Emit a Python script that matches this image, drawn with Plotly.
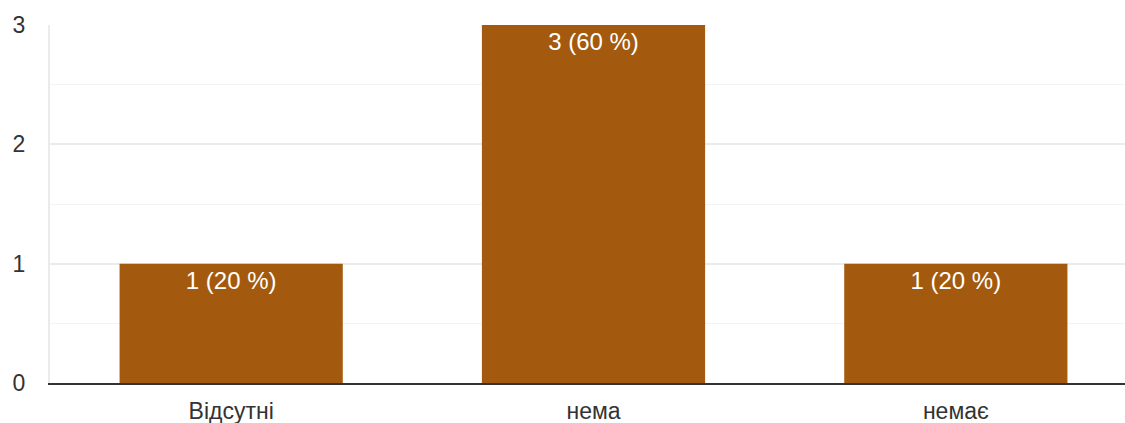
import plotly.graph_objects as go

categories = ["Відсутні", "нема", "немає"]
values = [1, 3, 1]
labels = ["1 (20 %)", "3 (60 %)", "1 (20 %)"]
y_ticks = [0, 1, 2, 3]

FONT = "Liberation Sans, Arial"

fig = go.Figure(go.Bar(
    x=categories, y=values, text=labels,
    textposition="inside", insidetextanchor="end",
    textfont=dict(color="white", size=24, family=FONT),
    marker=dict(color="#a35a0e", line=dict(width=0)),
))
fig.update_layout(
    width=1137, height=423,
    margin=dict(l=50, r=0, t=25, b=40),
    plot_bgcolor="white", paper_bgcolor="white",
    bargap=0.384, showlegend=False,
    font=dict(family=FONT, size=23, color="#333333"),
)
fig.update_yaxes(
    range=[0, 3], tickvals=y_ticks, showgrid=True, gridcolor="#ebebeb", gridwidth=2,
    minor=dict(dtick=0.5, showgrid=True, gridcolor="#f3f3f3", gridwidth=1),
    zeroline=False, showline=True, linecolor="#ebebeb", linewidth=2, automargin=False,
    ticks="", ticklabelstandoff=18, tickfont=dict(size=23, color="#333333"),
)
fig.update_xaxes(
    showline=True, linecolor="#333333", linewidth=2, ticks="", automargin=False,
    tickfont=dict(size=23, color="#333333"), ticklabelstandoff=6,
)
fig.write_html(
    "out.html",
    config=dict(displayModeBar=False),
    post_script="document.body.style.margin='0';document.body.style.overflow='hidden';",
)
